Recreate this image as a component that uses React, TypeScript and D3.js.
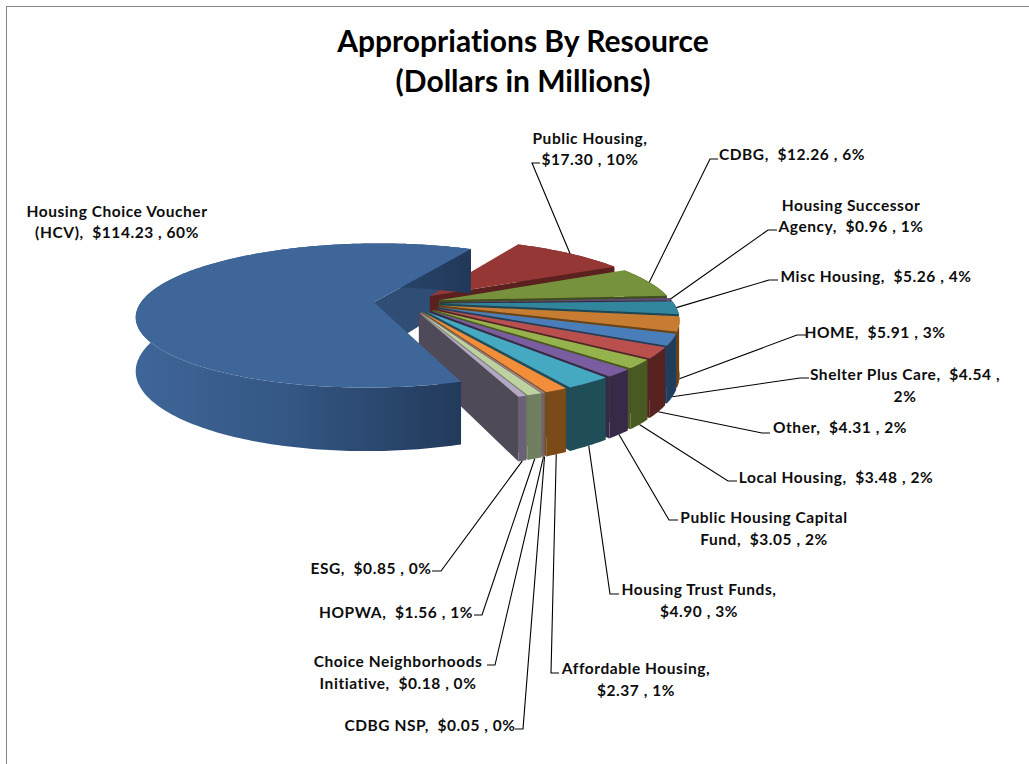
import React from "react";
import * as d3 from "d3";

// Appropriations by resource, in millions of dollars, clockwise from the large voucher slice.
const categories = [
  "Housing Choice Voucher (HCV)",
  "Public Housing",
  "CDBG",
  "Housing Successor Agency",
  "Misc Housing",
  "HOME",
  "Shelter Plus Care",
  "Other",
  "Local Housing",
  "Public Housing Capital Fund",
  "Housing Trust Funds",
  "Affordable Housing",
  "CDBG NSP",
  "Choice Neighborhoods Initiative",
  "HOPWA",
  "ESG",
];
const dollars = [114.23, 17.3, 12.26, 0.96, 5.26, 5.91, 4.54, 4.31, 3.48, 3.05, 4.9, 2.37, 0.05, 0.18, 1.56, 0.85];
const percents = [60, 10, 6, 1, 4, 3, 2, 2, 2, 2, 3, 1, 0, 0, 1, 0];

const titleLines = ["Appropriations By Resource", "(Dollars in Millions)"];

// Slice fill colours: top face and side wall.
const topColors = [
  "#3E6698", "#953735", "#76923C", "#604A7B", "#31859C", "#C77C32", "#4A7EBB", "#B9504E",
  "#95B34D", "#7A5DA0", "#46A9C2", "#F28D3A", "#7C9CC4", "#C98A88", "#BDD2A0", "#B3A7C6",
];
const wallColors = [
  "#2F4D75", "#5A211F", "#3F4F20", "#352940", "#1B4854", "#6F4310", "#1F3E5E", "#572220",
  "#485A22", "#362A48", "#1F4E58", "#7A4A18", "#5A6A80", "#7A6066", "#6F7F5F", "#6A6078",
];

// Text block and leader elbow for each slice; "{v}" stands for the slice's amount and share.
const labelLayout = [
  { cx: 117, ys: [217, 238], lines: ["Housing Choice Voucher", "(HCV),  {v}"], leader: null },
  { cx: 590, ys: [144, 165], lines: ["Public Housing,", "{v}"], leader: [[540, 163], [532, 163]] },
  { cx: 792, ys: [160], lines: ["CDBG,  {v}"], leader: [[718, 159], [710, 159]] },
  { cx: 851, ys: [211, 232], lines: ["Housing Successor", "Agency,  {v}"], leader: [[777, 230], [768, 230]] },
  { cx: 876, ys: [282], lines: ["Misc Housing,  {v}"], leader: [[778, 280], [769, 280]] },
  { cx: 875, ys: [338], lines: ["HOME,  {v}"], leader: [[806, 335], [797, 335]] },
  { cx: 905, ys: [380, 402], lines: ["Shelter Plus Care,  {a} ,", "{p}"], leader: [[809, 378], [800, 378]] },
  { cx: 840, ys: [433], lines: ["Other,  {v}"], leader: [[770, 433], [762, 433]] },
  { cx: 836, ys: [483], lines: ["Local Housing,  {v}"], leader: [[737, 481], [728, 481]] },
  { cx: 764, ys: [523, 545], lines: ["Public Housing Capital", "Fund,  {v}"], leader: [[678, 520], [669, 520]] },
  { cx: 699, ys: [595, 617], lines: ["Housing Trust Funds,", "{v}"], leader: [[619, 594], [610, 594]] },
  { cx: 636, ys: [674, 696], lines: ["Affordable Housing,", "{v}"], leader: [[559, 673], [551, 673]] },
  { cx: 430, ys: [731], lines: ["CDBG NSP,  {v}"], leader: [[515, 729], [523, 729]] },
  { cx: 398, ys: [667, 689], lines: ["Choice Neighborhoods", "Initiative,  {v}"], leader: [[487, 665], [495, 665]] },
  { cx: 396, ys: [618], lines: ["HOPWA,  {v}"], leader: [[474, 615], [482, 615]] },
  { cx: 371, ys: [574], lines: ["ESG,  {v}"], leader: [[432, 571], [441, 571]] },
];

// Projection of the pie's unit disc onto the page: a far edge narrower than the near edge.
const CENTER_X = 407;
const CENTER_Y = 303;
const RADIUS_X = 237;
const RADIUS_Y = 71;
const PERSPECTIVE = 0.186;
const EXPLOSION = 0.14;
const RIM = 0.985;
const DEPTH = 52;
const FIRST_SLICE_DEGREES = 160.5;

const toRad = (deg: number) => (deg * Math.PI) / 180;

type Pt = [number, number];

function project(u: number, v: number, drop = 0): Pt {
  const w = 1 + PERSPECTIVE * v;
  return [CENTER_X + (RADIUS_X * u) / w, CENTER_Y - (RADIUS_Y * v) / w + (drop * DEPTH) / w];
}

const pieLayout = d3
  .pie<number>()
  .sort(null)
  .startAngle(toRad(FIRST_SLICE_DEGREES))
  .endAngle(toRad(FIRST_SLICE_DEGREES + 360));

const arcs = pieLayout(dollars);
const linePath = d3.line();

function sliceGeometry(i: number) {
  const { startAngle, endAngle } = arcs[i];
  const mid = (startAngle + endAngle) / 2;
  const ox = EXPLOSION * Math.sin(mid);
  const oy = EXPLOSION * Math.cos(mid);
  const rim = (a: number, drop = 0) =>
    project(ox + RIM * Math.sin(a), oy + RIM * Math.cos(a), drop);
  const steps = Math.max(2, Math.ceil(((endAngle - startAngle) * 180) / Math.PI));
  const angles = d3.range(steps + 1).map((k) => startAngle + ((endAngle - startAngle) * k) / steps);
  const apexTop = project(ox, oy);
  const apexBottom = project(ox, oy, 1);
  const top = linePath([apexTop, ...angles.map((a) => rim(a))]) + "Z";
  const outer =
    linePath([...angles.map((a) => rim(a)), ...angles.slice().reverse().map((a) => rim(a, 1))]) + "Z";
  const trailing = linePath([apexTop, rim(endAngle), rim(endAngle, 1), apexBottom]) + "Z";
  return { mid, rim, top, outer, trailing, apexTop, apexBottom };
}

const slices = dollars.map((_, i) => sliceGeometry(i));

function labelText(line: string, i: number) {
  const amount = `$${dollars[i].toFixed(2)}`;
  const share = `${percents[i]}%`;
  return line
    .replace("{v}", `${amount} , ${share}`)
    .replace("{a}", amount)
    .replace("{p}", share);
}

const FONT = "Lato, 'Open Sans', sans-serif";

export default function App() {
  const fan = d3.range(1, dollars.length);
  return (
    <svg
      width={1029}
      height={764}
      style={{ position: "absolute", left: 0, top: 0, display: "block", background: "#fff" }}
    >
      <defs>
        <linearGradient id="voucherWall" x1="0" x2="1" y1="0" y2="0">
          <stop offset="0%" stopColor="#3F6699" />
          <stop offset="45%" stopColor="#345784" />
          <stop offset="100%" stopColor="#213859" />
        </linearGradient>
      </defs>
      <rect x={6.5} y={6.5} width={1100} height={900} fill="#fff" stroke="#868686" strokeWidth={1} />

      {titleLines.map((line, i) => (
        <text
          key={line}
          x={523}
          y={52 + i * 40}
          textAnchor="middle"
          fontFamily={FONT}
          fontWeight={700}
          fontSize={30}
          fill="#000"
          style={{ fontVariantLigatures: "none" }}
        >
          {line}
        </text>
      ))}

      {/* cut face of the voucher slice, behind the rest of the fan */}
      <path
        d={
          linePath([
            slices[0].rim(arcs[0].endAngle),
            slices[0].rim(arcs[0].endAngle, 1),
            slices[0].apexBottom,
            slices[0].apexTop,
          ]) + "Z"
        }
        fill={wallColors[0]}
      />

      {/* remaining slices painted back to front */}
      {fan.map((i) => (
        <g key={categories[i]}>
          <path d={slices[i].trailing} fill={i === dollars.length - 1 ? "#4F4A58" : wallColors[i]} />
          <path d={slices[i].outer} fill={wallColors[i]} />
          <path d={slices[i].top} fill={topColors[i]} />
        </g>
      ))}

      <path d={slices[0].outer} fill="url(#voucherWall)" />
      <path d={slices[0].top} fill={topColors[0]} />

      {/* leader lines from each rim to its text */}
      {labelLayout.map((label, i) => {
        if (!label.leader) return null;
        const { mid, rim } = slices[i];
        const anchor = rim(mid, Math.cos(mid) < -0.15 ? 1 : 0);
        return (
          <path
            key={categories[i]}
            d={linePath([...(label.leader as Pt[]), anchor]) || ""}
            fill="none"
            stroke="#000"
            strokeWidth={1.1}
          />
        );
      })}

      {labelLayout.map((label, i) => (
        <text
          key={categories[i]}
          textAnchor="middle"
          fontFamily={FONT}
          fontWeight={700}
          fontSize={15.5}
          letterSpacing={0.55}
          fill="#0d0d0d"
          style={{ whiteSpace: "pre", fontVariantLigatures: "none" }}
        >
          {label.lines.map((line, k) => (
            <tspan key={line} x={label.cx} y={label.ys[k]}>
              {labelText(line, i)}
            </tspan>
          ))}
        </text>
      ))}
    </svg>
  );
}
